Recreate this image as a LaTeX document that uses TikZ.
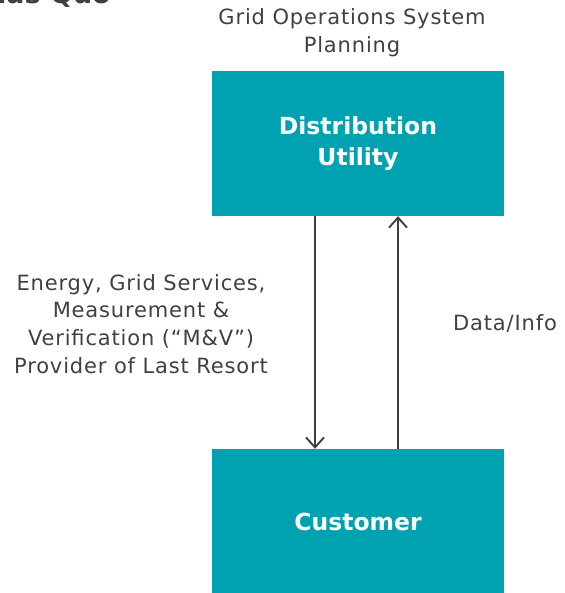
\documentclass[tikz,border=0pt]{standalone}
\usepackage{fontspec}
\setmainfont{DejaVu Sans}
\newfontfamily\lblfont[LetterSpace=4]{DejaVu Sans}
\usepackage{xcolor}
\usetikzlibrary{positioning,arrows.meta}

\definecolor{tealbox}{HTML}{00A2B1}
\definecolor{inkgray}{HTML}{404040}

\begin{document}
\begin{tikzpicture}[x=1pt,y=-1pt,
    box/.style={fill=tealbox, minimum width=292pt, minimum height=145pt,
        text=white, font=\fontsize{23.5}{31}\selectfont\bfseries, align=center},
    lbl/.style={text=inkgray, font=\fontsize{21}{27.7}\selectfont\lblfont, align=center},
    flow/.style={draw=inkgray, line width=1.9pt, -{Straight Barb[length=10pt,width=18pt,line width=1.9pt]}}]
        % page frame
        \useasboundingbox (0,0) rectangle (564,593);
        \clip (0,0) rectangle (564,593);

        % title, cut at the top edge
        \node[anchor=base east, inner sep=0, text=inkgray, font=\fontsize{27}{27}\selectfont\bfseries] (title) at (111,4) {Status Quo};

        % Utility box
        \node[box] (util) at (358,143.5) {Distribution\\Utility};
        \node[lbl] (ops) at (352,33) {Grid Operations System\\Planning};

        % Customer box
        \node[box] (cust) at (358,521.5) {Customer};

        % Flows between the two
        \draw[flow] ([xshift=-43pt]util.south) -- ([xshift=-43pt]cust.north);
        \draw[flow] ([xshift=40pt]cust.north) -- ([xshift=40pt]util.south);

        % Labels
        \node[lbl] (services) at (141,324) {Energy, Grid Services,\\Measurement \&\\Verification (“M\&V”)\\Provider of Last Resort};
        \node[lbl] (data) at (505,323) {Data/Info};
    \end{tikzpicture}
\end{document}
